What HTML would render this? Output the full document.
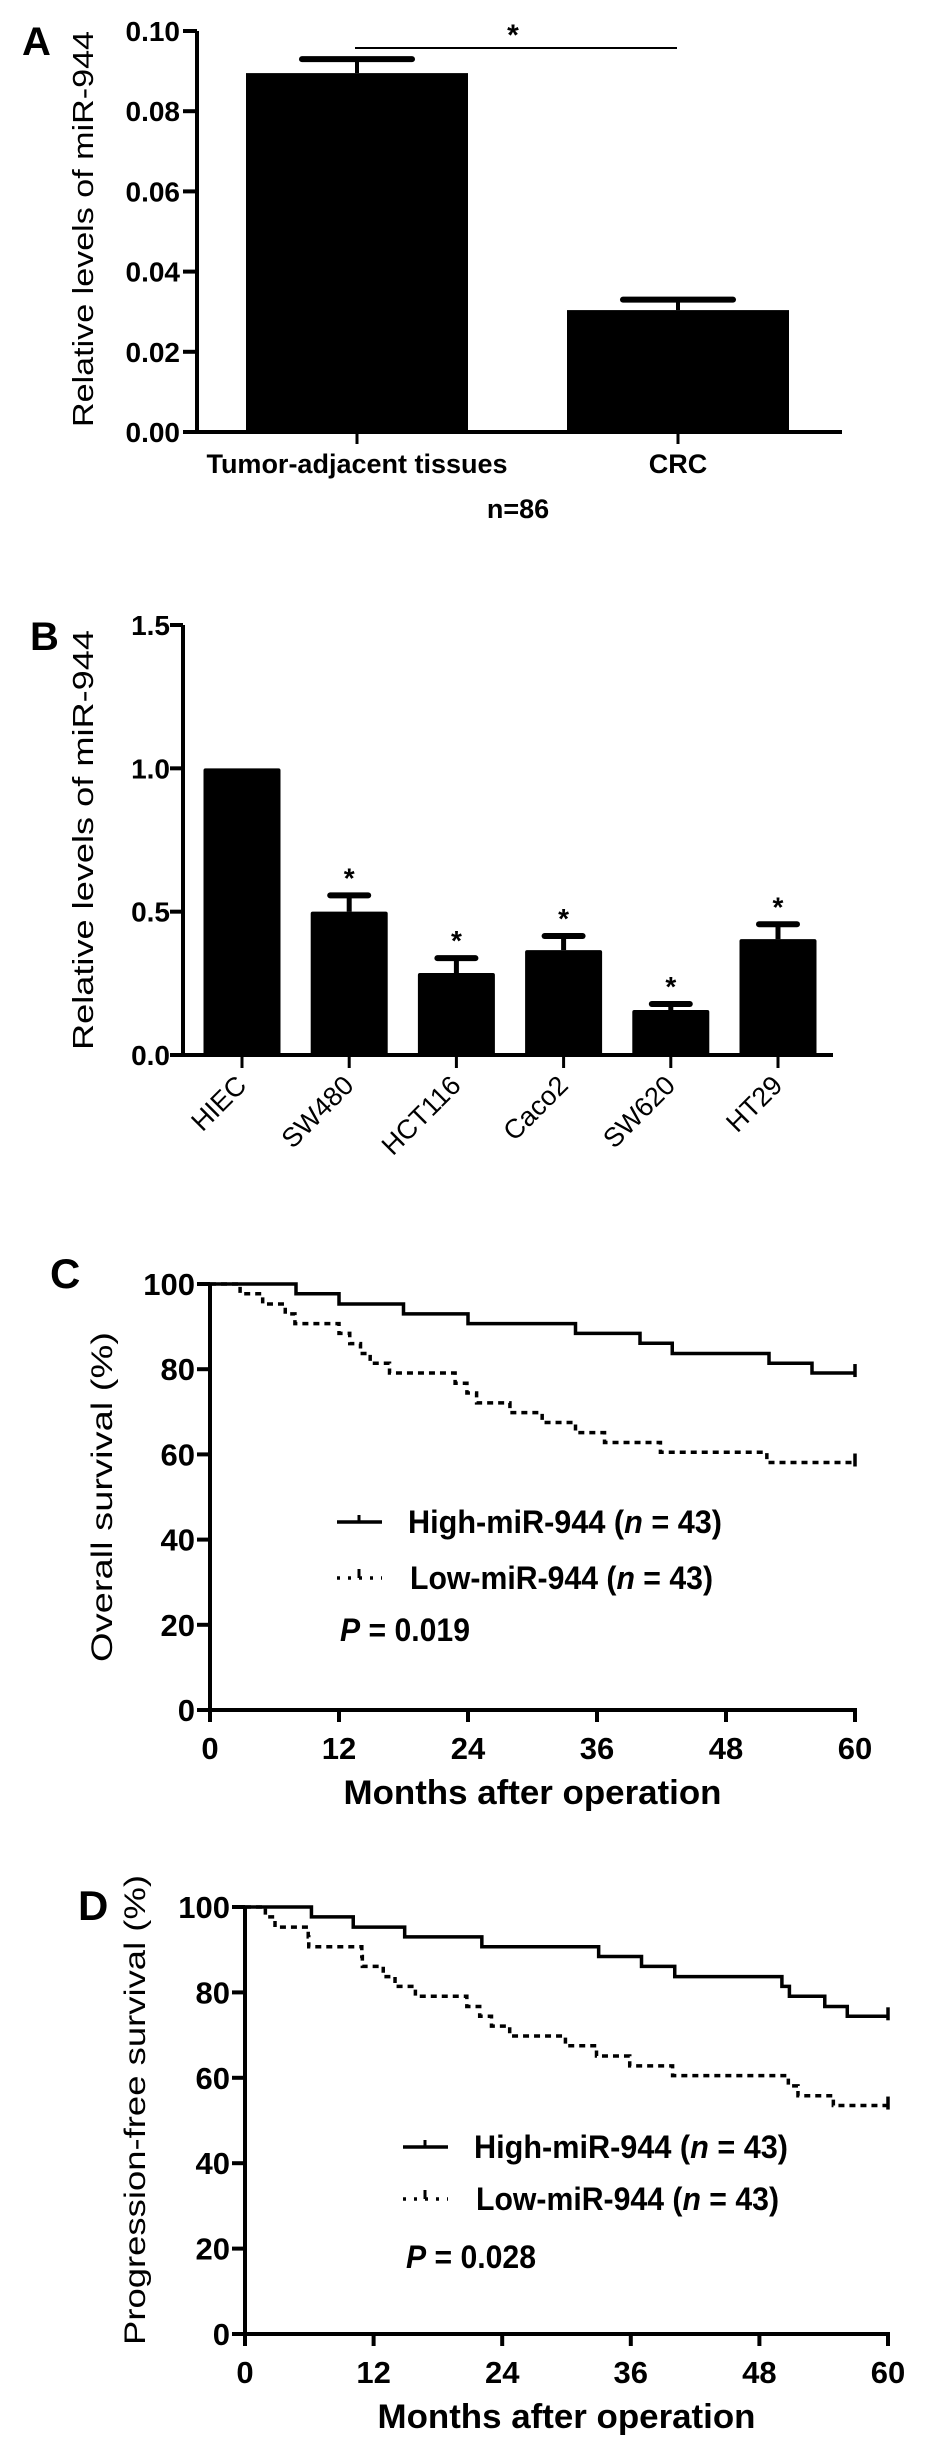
<!DOCTYPE html>
<html><head><meta charset="utf-8"><style>
html,body{margin:0;padding:0;background:#fff}
svg{display:block}
text{font-family:"Liberation Sans",Arial,sans-serif;fill:#000}
.n{font-family:"Liberation Sans Narrow","Liberation Sans",sans-serif;font-weight:bold}
</style></head><body>
<svg id="fig" width="940" height="2449" viewBox="0 0 940 2449" xmlns="http://www.w3.org/2000/svg"></svg>
<script>
// Panel A data
const aCats = ["Tumor-adjacent tissues", "CRC"];
const aVals = [0.0895, 0.0304];
const aErr = [0.093, 0.033];
const aTicks = ["0.00","0.02","0.04","0.06","0.08","0.10"];
// Panel B data
const bCats = ["HIEC","SW480","HCT116","Caco2","SW620","HT29"];
const bVals = [1.0, 0.50, 0.286, 0.366, 0.157, 0.404];
const bErr = [1.0, 0.557, 0.338, 0.415, 0.178, 0.456];
const bTicks = ["0.0","0.5","1.0","1.5"];
// Panel C data (Kaplan-Meier steps: month, survival %)
const cHighT = [8, 12, 18, 24, 34, 40, 43, 52, 56];
const cHighV = [97.7, 95.3, 93.0, 90.7, 88.4, 86.1, 83.7, 81.4, 79.1];
const cLowT = [2.8, 4.9, 7, 7.9, 12, 13, 14, 14.9, 16.7, 22.8, 23.9, 24.8, 27.9, 30.9, 34, 36.7, 41.9, 51.8];
const cLowV = [97.7, 95.3, 93.0, 90.7, 88.4, 86.0, 83.7, 81.4, 79.1, 76.7, 74.4, 72.1, 69.8, 67.5, 65.1, 62.8, 60.5, 58.1];
// Panel D data
const dHighT = [6.2, 10.1, 14.9, 22.1, 33, 37, 40.1, 50.1, 50.8, 54.1, 56.2];
const dHighV = [97.7, 95.3, 93.0, 90.7, 88.4, 86.1, 83.7, 81.4, 79.1, 76.7, 74.4];
const dLowT = [1.9, 2.8, 5.9, 5.95, 10.9, 10.95, 12.9, 14, 15.9, 20.7, 21.9, 23, 24.7, 29.9, 32.8, 35.9, 39.9, 50.7, 51.6, 54.9];
const dLowV = [97.7, 95.3, 93.0, 90.7, 88.4, 86.1, 83.7, 81.4, 79.1, 76.7, 74.4, 72.1, 69.8, 67.5, 65.1, 62.8, 60.5, 58.1, 55.8, 53.5];
const kmYTicks = ["0","20","40","60","80","100"];
const kmXTicks = ["0","12","24","36","48","60"];

const NS = "http://www.w3.org/2000/svg";
const svg = document.getElementById("fig");
function mk(tag, at, txt) {
  const e = document.createElementNS(NS, tag);
  for (const k in at) e.setAttribute(k, at[k]);
  if (txt !== undefined) e.textContent = txt;
  svg.appendChild(e);
  return e;
}
function line(x1,y1,x2,y2,w){ return mk("line",{x1,y1,x2,y2,stroke:"#000","stroke-width":w||3}); }

// ---------- Panel A ----------
(function(){
  const x0=197, y0=432, yTop=31, xEnd=842, max=0.10;
  const ay = v => y0 - v/max*(y0-yTop);
  const centers=[357,678], bw=222;
  let t;
  t=mk("text",{x:22,y:55,"font-size":40,"font-weight":"bold"},"A");
   
  t=mk("text",{transform:"translate(93,229) rotate(-90)","text-anchor":"middle","font-size":29,textLength:396,lengthAdjust:"spacingAndGlyphs"},"Relative levels of miR-944");
   
  aCats.forEach((c,i)=>{
    const r=mk("rect",{x:centers[i]-bw/2,y:ay(aVals[i]),width:bw,height:y0-ay(aVals[i]),fill:"#000"});
     
    const e=line(centers[i],ay(aVals[i]),centers[i],ay(aErr[i]),4);
     
    const cap=line(centers[i]-55,ay(aErr[i]),centers[i]+55,ay(aErr[i]),6);
    cap.setAttribute('stroke-linecap','round');
     
    line(centers[i],y0,centers[i],y0+12,3);
    const l=mk("text",{x:centers[i],y:473,"text-anchor":"middle","font-size":27,"font-weight":"bold"},c);
     
  });
  const ya=line(x0,yTop,x0,y0,4);  
  const xa=line(x0-2,y0,xEnd,y0,4);  
  aTicks.forEach(s=>{
    const y=ay(parseFloat(s));
    line(x0-14,y,x0,y,4);
    const l=mk("text",{x:180,y:y+10,"text-anchor":"end","font-size":28,"font-weight":"bold"},s);
     
  });
  const s=line(355,48,677,48,2);  
  t=mk("text",{x:513,y:45,"text-anchor":"middle","font-size":30,"font-weight":"bold"},"*");
   
  t=mk("text",{x:518,y:518,"text-anchor":"middle","font-size":27,"font-weight":"bold"},"n=86");
   
})();

// ---------- Panel B ----------
(function(){
  const x0=183, y0=1055, yTop=625, xEnd=833, max=1.5;
  const by = v => y0 - v/max*(y0-yTop);
  const bx = i => 242 + i*107.2;
  const bw=77;
  let t;
  t=mk("text",{x:30,y:650,"font-size":40,"font-weight":"bold"},"B");
   
  t=mk("text",{transform:"translate(93,840) rotate(-90)","text-anchor":"middle","font-size":29,textLength:420,lengthAdjust:"spacingAndGlyphs"},"Relative levels of miR-944");
   
  bCats.forEach((c,i)=>{
    const cx=bx(i);
    const r=mk("rect",{x:cx-bw/2,y:by(bVals[i]),width:bw,height:y0-by(bVals[i]),fill:"#000",rx:2});
     
    if(i>0){
      const e=line(cx,by(bVals[i]),cx,by(bErr[i]),5);
       
      const cap=line(cx-19,by(bErr[i]),cx+19,by(bErr[i]),6);
      cap.setAttribute('stroke-linecap','round');
       
      const st=mk("text",{x:cx,y:by(bErr[i])-8,"text-anchor":"middle","font-size":28,"font-weight":"bold"},"*");
       
    }
    line(cx,y0,cx,y0+13,3);
    const l=mk("text",{transform:`translate(${cx+6},${y0+32}) rotate(-45)`,"text-anchor":"end","font-size":27},c);
     
  });
  const ya=line(x0,yTop,x0,y0,4);  
  const xa=line(x0-2,y0,xEnd,y0,4);  
  bTicks.forEach(s=>{
    const y=by(parseFloat(s));
    line(x0-13,y,x0,y,4);
    const l=mk("text",{x:170,y:y+10,"text-anchor":"end","font-size":28,"font-weight":"bold"},s);
     
  });
})();

// ---------- KM panels ----------
function km(o){
  const kx = m => o.x0 + m/60*(o.x60-o.x0);
  const ky = v => o.y0 - v/100*(o.y0-o.y100);
  let t;
  t=mk("text",{x:o.lx,y:o.ly,"font-size":42,"font-weight":"bold"},o.letter);
   
  t=mk("text",{transform:`translate(${o.tx},${o.ty}) rotate(-90)`,"text-anchor":"middle","font-size":30,textLength:o.tl,lengthAdjust:"spacingAndGlyphs"},o.ytitle);
   
  const ya=line(o.x0,o.y100,o.x0,o.y0,4);  
  const xa=line(o.x0-2,o.y0,o.x60+2,o.y0,4);  
  kmYTicks.forEach(s=>{
    const y=ky(parseFloat(s));
    line(o.x0-13,y,o.x0,y,4);
    const l=mk("text",{x:o.x0-15,y:y+11,"text-anchor":"end","font-size":31,class:"n"},s);
     
  });
  kmXTicks.forEach(s=>{
    const x=kx(parseFloat(s));
    line(x,o.y0,x,o.y0+12,4);
    const l=mk("text",{x:x,y:o.y0+49,"text-anchor":"middle","font-size":31,class:"n"},s);
     
  });
  t=mk("text",{x:(o.x0+o.x60)/2,y:o.y0+94,"text-anchor":"middle","font-size":34,class:"n",textLength:378,lengthAdjust:"spacingAndGlyphs"},"Months after operation");
   
  function path(T,V){
    let d=`M${kx(0)},${ky(100)}`;
    T.forEach((m,i)=>{ d+=` H${kx(m)} V${ky(V[i])}`; });
    d+=` H${kx(60)}`;
    return d;
  }
  const hp=mk("path",{d:path(o.hT,o.hV),fill:"none",stroke:"#000","stroke-width":3.5});
   
  const lp=mk("path",{d:path(o.lT,o.lV),fill:"none",stroke:"#000","stroke-width":3.5,"stroke-dasharray":"6,5"});
   
  line(kx(60),ky(o.hV[o.hV.length-1])-9,kx(60),ky(o.hV[o.hV.length-1])+4,3.5);
  line(kx(60),ky(o.lV[o.lV.length-1])-9,kx(60),ky(o.lV[o.lV.length-1])+4,3.5);
  // legend
  const h=line(o.gx,o.gy1,o.gx+45,o.gy1,3.5);  
  line(o.gx+22,o.gy1-7,o.gx+22,o.gy1,3);
  const lw=line(o.gx,o.gy2,o.gx+45,o.gy2,3.5); lw.setAttribute('stroke-dasharray','3,8');  
  line(o.gx+22,o.gy2-9,o.gx+22,o.gy2,3);
  t=mk("text",{x:o.gx+71,y:o.gy1+11,"font-size":32,class:"n",textLength:314,lengthAdjust:"spacingAndGlyphs"});
  t.innerHTML='High-miR-944 (<tspan font-style="italic">n</tspan> = 43)';
   
  t=mk("text",{x:o.gx+73,y:o.gy2+11,"font-size":32,class:"n",textLength:303,lengthAdjust:"spacingAndGlyphs"});
  t.innerHTML='Low-miR-944 (<tspan font-style="italic">n</tspan> = 43)';
   
  t=mk("text",{x:o.gx+3,y:o.gy3+11,"font-size":32,class:"n",textLength:130,lengthAdjust:"spacingAndGlyphs"});
  t.innerHTML='<tspan font-style="italic">P</tspan> = '+o.p;
   
}
km({letter:"C",lx:50,ly:1288,x0:210,x60:855,y0:1710,y100:1284,tx:112,ty:1497,tl:330,
    ytitle:"Overall survival (%)",hT:cHighT,hV:cHighV,lT:cLowT,lV:cLowV,
    gx:337,gy1:1522,gy2:1578,gy3:1630,p:"0.019"});
km({letter:"D",lx:78,ly:1920,x0:245,x60:888,y0:2334,y100:1907,tx:145,ty:2110,tl:470,
    ytitle:"Progression-free survival (%)",hT:dHighT,hV:dHighV,lT:dLowT,lV:dLowV,
    gx:403,gy1:2147,gy2:2199,gy3:2257,p:"0.028"});
</script>
</body></html>
